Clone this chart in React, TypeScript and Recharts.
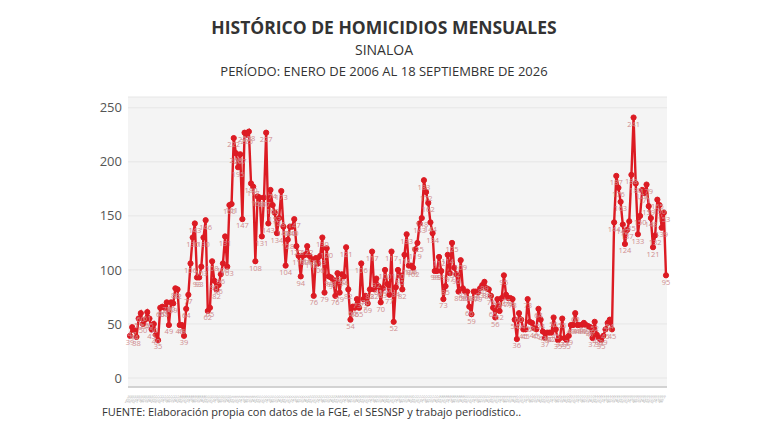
import { CartesianGrid, LabelList, Line, LineChart, XAxis, YAxis } from 'recharts';

const MONTHS = ['ene', 'feb', 'mar', 'abr', 'may', 'jun', 'jul', 'ago', 'sep', 'oct', 'nov', 'dic'];

// homicidios por mes, enero 2006 en adelante
const VALUES_2006_2009 = [
  39, 47, 44, 38, 55, 60, 50, 54, 61, 55, 45, 50,
  40, 35, 65, 66, 65, 70, 49, 70, 69, 83, 82, 49,
  49, 39, 64, 77, 106, 130, 143, 93, 93, 103, 130, 146,
  62, 65, 108, 90, 82, 86, 96, 106, 131, 103, 160, 161,
];
const VALUES_2010_2013 = [
  222, 208, 195, 207, 147, 227, 225, 228, 180, 177, 108, 168,
  167, 131, 167, 227, 143, 174, 160, 153, 134, 148, 173, 140,
  104, 128, 140, 140, 147, 122, 113, 94, 113, 114, 122, 113,
  110, 76, 111, 106, 113, 130, 79, 120, 94, 93, 91, 76,
];
const VALUES_2014_2017 = [
  97, 79, 96, 94, 121, 82, 54, 66, 65, 73, 65, 106,
  73, 76, 69, 82, 117, 82, 92, 85, 70, 83, 100, 87,
  77, 117, 52, 84, 100, 95, 82, 114, 133, 104, 104, 102,
  119, 125, 143, 148, 183, 172, 162, 144, 134, 99, 99, 112,
];
const VALUES_2018_2021 = [
  99, 73, 85, 114, 97, 125, 102, 96, 80, 109, 83, 80,
  80, 66, 59, 80, 80, 79, 83, 86, 89, 83, 82, 76,
  65, 56, 73, 62, 74, 95, 77, 74, 74, 73, 54, 36,
  60, 54, 45, 45, 73, 52, 51, 46, 45, 64, 54, 43,
];
const VALUES_2022_2026 = [
  37, 42, 42, 42, 56, 45, 35, 37, 55, 37, 35, 39,
  49, 49, 60, 49, 49, 49, 51, 49, 48, 47, 37, 52,
  40, 37, 35, 39, 45, 51, 54, 45, 144, 187, 176, 163,
  142, 124, 137, 145, 188, 241, 180, 133, 150, 174, 171, 179,
  159, 148, 121, 132, 165, 160, 139, 153, 95,
];

const VALUES = [
  ...VALUES_2006_2009,
  ...VALUES_2010_2013,
  ...VALUES_2014_2017,
  ...VALUES_2018_2021,
  ...VALUES_2022_2026,
];

const Y_TICKS = [0, 50, 100, 150, 200, 250];

const data = VALUES.map((value, i) => ({
  mes: `${MONTHS[i % 12]}-${String(6 + Math.floor(i / 12)).padStart(2, '0')}`,
  value,
}));

const RED = '#dc1b23';
const FONT = '"Open Sans", "Noto Sans", sans-serif';

function TinyTick({ x, y, payload }: { x?: number; y?: number; payload?: { value: string } }) {
  return (
    <text x={x} y={(y ?? 0) + 1} fontSize={2.6} fill="#8a8a8a" textAnchor="end" transform={`rotate(-60 ${x} ${(y ?? 0) + 1})`}>
      {payload?.value}
    </text>
  );
}

export default function App() {
  return (
    <div style={{ position: 'absolute', left: 0, top: 0, width: 768, height: 432, background: '#fff', fontFamily: FONT, color: '#333' }}>
      <div style={{ position: 'absolute', top: 15, width: 768, textAlign: 'center', fontSize: 17.5, fontWeight: 700, color: '#333' }}>
        HISTÓRICO DE HOMICIDIOS MENSUALES
      </div>
      <div style={{ position: 'absolute', top: 40, width: 768, textAlign: 'center', fontSize: 14, color: '#333' }}>
        SINALOA
      </div>
      <div style={{ position: 'absolute', top: 62, width: 768, textAlign: 'center', fontSize: 13, color: '#333' }}>
        PERÍODO: ENERO DE 2006 AL 18 SEPTIEMBRE DE 2026
      </div>

      <div style={{ position: 'absolute', left: 0, top: 0 }}>
        <LineChart
          width={768}
          height={432}
          data={data}
          margin={{ top: 97, right: 101, left: 0, bottom: 35 }}
        >
          <CartesianGrid horizontal vertical={false} stroke="#e6e6e6" fill="#f4f4f4" />
          <XAxis
            dataKey="mes"
            interval={0}
            height={10}
            tick={<TinyTick />}
            tickLine={false}
            axisLine={{ stroke: '#c8c8c8', strokeWidth: 1.5 }}
            padding={{ left: 2, right: 1 }}
          />
          <YAxis
            width={128}
            domain={[0, 260]}
            ticks={Y_TICKS}
            padding={{ bottom: 9, top: 0 }}
            axisLine={false}
            tickLine={false}
            tickSize={0}
            tickMargin={6}
            tick={{ fontSize: 13, fill: '#555', fontFamily: FONT }}
          />
          <Line
            dataKey="value"
            stroke="none"
            dot={false}
            activeDot={false}
            isAnimationActive={false}
          >
            <LabelList dataKey="value" position="bottom" offset={4} fontSize={7.5} fill="#d08d8f" fontFamily={FONT} />
          </Line>
          <Line
            dataKey="value"
            type="linear"
            stroke={RED}
            strokeWidth={2.4}
            dot={{ r: 2.6, fill: RED, stroke: RED, strokeWidth: 1 }}
            activeDot={false}
            isAnimationActive={false}
          />
        </LineChart>
      </div>

      <div style={{ position: 'absolute', left: 102, top: 404, fontSize: 11, color: '#333' }}>
        FUENTE: Elaboración propia con datos de la FGE, el SESNSP y trabajo periodístico..
      </div>
    </div>
  );
}
